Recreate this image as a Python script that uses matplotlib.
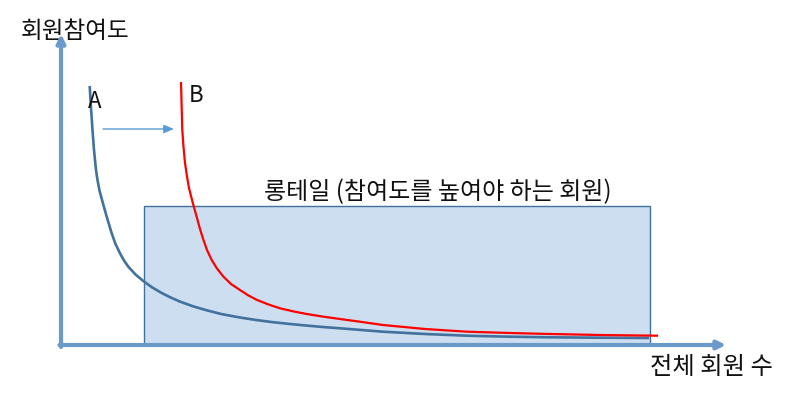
import matplotlib
matplotlib.use("Agg")
import matplotlib.pyplot as plt
from matplotlib.patches import Rectangle

plt.rcParams['font.family'] = ['Noto Sans CJK KR', 'DejaVu Sans']

# Curve A (before) and curve B (after) in pixel coordinates
a_x = [89.7, 91, 92.5, 94, 96, 97.5, 99.5, 102.3, 106.7, 111.7, 115.5, 120, 124, 128.3, 135.5, 143.3,
       152, 161.7, 170, 180, 193, 206.7, 222, 240, 256, 273, 290, 306.7, 323, 340, 383,
       425, 467, 510, 550, 600, 649]
a_y = [86, 108, 130, 150, 170, 180, 190.5, 201, 216.7, 233.3, 244, 253.3, 260.5, 266.7, 274.5, 281,
       287.3, 293, 297.2, 301.6, 306.3, 310.3, 314.2, 317.5, 320, 322.2, 324, 325.6, 327, 328.3, 331.7,
       334, 335.7, 336.7, 337.3, 337.7, 338]
b_x = [181, 181.6, 182.3, 183.5, 185, 187, 189, 191.5, 193.5, 197, 200, 203.3, 207, 211.7, 217,
       223.3, 231, 240, 248, 256.7, 268, 280, 293, 306.7, 323, 340, 362, 383, 425, 467,
       510, 550, 600, 658]
b_y = [82, 105, 130, 147, 163, 176.5, 188, 198, 205.5, 218, 229, 239.5, 250, 260, 268.5,
       276.5, 284, 290, 295.2, 299.8, 304.3, 308.3, 311.3, 314, 316.6, 319, 322, 325, 329, 331.7,
       333, 334, 335, 335.7]

# Long-tail box
box_x0, box_x1 = 144, 650
box_y0, box_y1 = 206, 345

axis_color = '#6A9ACB'

fig = plt.figure(figsize=(8.01, 4.04), dpi=100)
ax = fig.add_axes([0, 0, 1, 1])
ax.set_xlim(0, 801)
ax.set_ylim(404, 0)
ax.axis('off')

ax.add_patch(Rectangle((box_x0, box_y0), box_x1 - box_x0, box_y1 - box_y0,
                       facecolor='#CCDEF0', edgecolor='#41719C', lw=1, zorder=1))

ax.plot(a_x, a_y, color='#41719C', lw=1.9, zorder=3, solid_capstyle='butt')
ax.plot(b_x, b_y, color='#FF0000', lw=1.6, zorder=3, solid_capstyle='butt')

# axes with arrow heads
ax.annotate('', xy=(61, 34), xytext=(61, 347),
            arrowprops=dict(arrowstyle='-|>,head_length=0.5,head_width=0.25',
                            lw=3, color=axis_color, shrinkA=0, shrinkB=0), zorder=4)
ax.annotate('', xy=(726, 345), xytext=(59.5, 345),
            arrowprops=dict(arrowstyle='-|>,head_length=0.5,head_width=0.25',
                            lw=3, color=axis_color, shrinkA=0, shrinkB=0), zorder=4)

# shift arrow A -> B
ax.annotate('', xy=(174, 129), xytext=(103, 129),
            arrowprops=dict(arrowstyle='-|>,head_length=0.6,head_width=0.25',
                            lw=1, color='#5B9BD5', shrinkA=0, shrinkB=0), zorder=4)

ax.text(21, 32, '회원참여도', fontsize=17, va='center', ha='left', color='#111111')
ax.text(650, 367, '전체 회원 수', fontsize=17.5, va='center', ha='left', color='#111111')
ax.text(438, 192, '롱테일 (참여도를 높여야 하는 회원)', fontsize=17.3, va='center', ha='center', color='#111111')
ax.text(95, 101, 'A', fontsize=16, va='center', ha='center', color='#111111')
ax.text(196, 95, 'B', fontsize=16, va='center', ha='center', color='#111111')

fig.savefig('out.png', dpi=100)
